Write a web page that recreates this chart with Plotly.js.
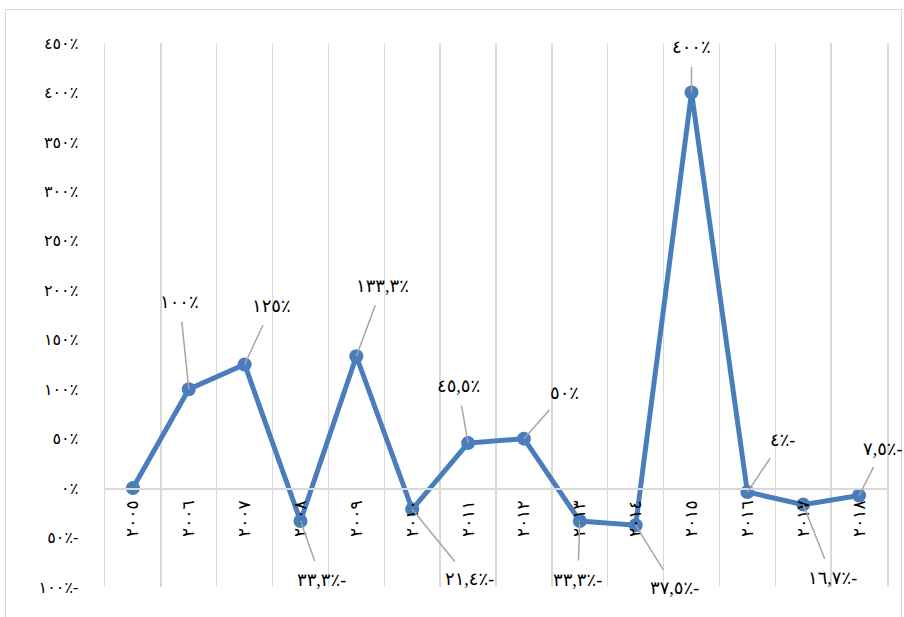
<!DOCTYPE html>
<html>
<head>
<meta charset="utf-8">
<script src="https://cdn.plot.ly/plotly-3.0.1.min.js"></script>
<style>
  html, body { margin: 0; padding: 0; background: #fff; }
  #frame { position: absolute; left: 5px; top: 9px; width: 897px; height: 640px; border: 1.5px solid #d9d9d9; box-sizing: border-box; }
  #chart { position: absolute; left: 0; top: 0; width: 904px; height: 617px; }
</style>
</head>
<body>
<div id="frame"></div>
<div id="chart"></div>
<script>
// ---- data ----
const years = [2005, 2006, 2007, 2008, 2009, 2010, 2011, 2012, 2013, 2014, 2015, 2016, 2017, 2018];
const yearLabels = ['٢٠٠٥','٢٠٠٦','٢٠٠٧','٢٠٠٨','٢٠٠٩','٢٠١٠','٢٠١١','٢٠١٢','٢٠١٣','٢٠١٤','٢٠١٥','٢٠١٦','٢٠١٧','٢٠١٨'];
const growth = [0, 100, 125, -33.3, 133.3, -21.4, 45.5, 50, -33.3, -37.5, 400, -4, -16.7, -7.5];
const valueLabels = [null, '١٠٠٪', '١٢٥٪', '٣٣,٣٪-', '١٣٣,٣٪', '٢١,٤٪-', '٤٥,٥٪', '٥٠٪', '٣٣,٣٪-', '٣٧,٥٪-', '٤٠٠٪', '٤٪-', '١٦,٧٪-', '٧,٥٪-'];
const yTickVals = [-100, -50, 0, 50, 100, 150, 200, 250, 300, 350, 400, 450];
const yTickText = ['١٠٠٪-', '٥٠٪-', '٠٪', '٥٠٪', '١٠٠٪', '١٥٠٪', '٢٠٠٪', '٢٥٠٪', '٣٠٠٪', '٣٥٠٪', '٤٠٠٪', '٤٥٠٪'];

// label offsets (pixels) – styling only
const labelOffsets = [null, [-9,-87], [27,-58], [21,59], [26,-70], [57,70], [-10,-57], [41,-46], [-2,59], [39,63], [0,-45], [35,-52], [29,73], [24,-47]];

const cats = yearLabels;
const yMin = -100, yMax = 450;
const FONT = 'Liberation Serif, DejaVu Sans, serif';

const trace = {
  type: 'scatter',
  mode: 'lines+markers',
  x: cats,
  y: growth,
  line: { color: '#4a7ebb', width: 5 },
  marker: { color: '#4a7ebb', size: 14 },
  hoverinfo: 'skip',
  cliponaxis: false
};

const annotations = [];
growth.forEach((v, i) => {
  if (valueLabels[i] === null) return;
  annotations.push({
    x: cats[i], y: v, xref: 'x', yref: 'y',
    text: valueLabels[i],
    showarrow: true, arrowhead: 0, arrowwidth: 1.5, arrowcolor: '#a6a6a6',
    ax: labelOffsets[i][0], ay: labelOffsets[i][1],
    startstandoff: 8,
    font: { family: FONT, size: 18, color: '#000' }
  });
});

const layout = {
  width: 904, height: 617,
  margin: { l: 105, r: 17, t: 43, b: 30 },
  paper_bgcolor: 'rgba(0,0,0,0)',
  plot_bgcolor: 'rgba(0,0,0,0)',
  showlegend: false,
  xaxis: {
    type: 'category',
    range: [-0.5, 13.5],
    anchor: 'free',
    position: (0 - yMin) / (yMax - yMin),
    showline: true, linecolor: '#d9d9d9', linewidth: 1.5,
    showgrid: true, gridcolor: '#d9d9d9', gridwidth: 1.5,
    tickson: 'boundaries',
    ticks: '',
    tickangle: -90,
    ticklabelstandoff: 4,
    tickfont: { family: FONT, size: 17, color: '#000' },
    zeroline: false,
    fixedrange: true
  },
  yaxis: {
    range: [yMin, yMax],
    tickvals: yTickVals,
    ticktext: yTickText,
    showgrid: false,
    zeroline: false,
    showline: true, linecolor: '#d9d9d9', linewidth: 1.5,
    mirror: true,
    ticks: '',
    ticklabelstandoff: 22,
    tickfont: { family: FONT, size: 16, color: '#000' },
    fixedrange: true
  },
  annotations: annotations
};

Plotly.newPlot('chart', [trace], layout, { displayModeBar: false, staticPlot: true });
</script>
</body>
</html>
